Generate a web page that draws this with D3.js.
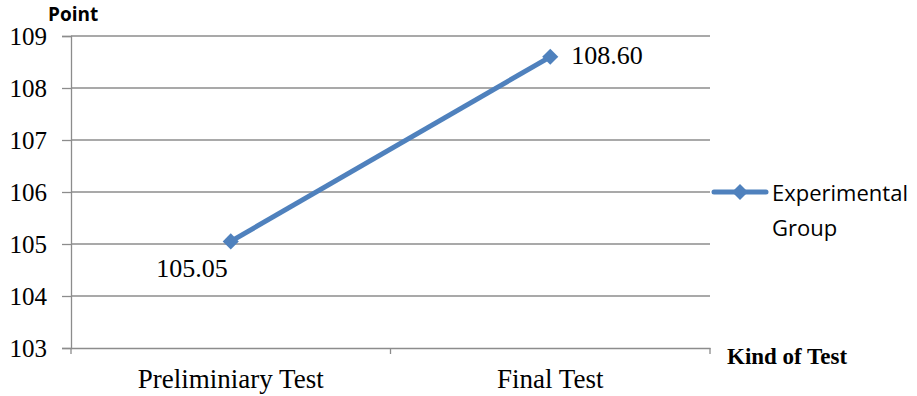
<!DOCTYPE html>
<html>
<head>
<meta charset="utf-8">
<script src="https://cdn.jsdelivr.net/npm/d3@7"></script>
<style>
  body { margin: 0; background: #fff; }
  svg { display: block; }
</style>
</head>
<body>
<svg id="chart" width="917" height="396"></svg>
<script>
var categories = ["Preliminiary Test", "Final Test"];
var values = [105.05, 108.60];
var valueLabels = ["105.05", "108.60"];
var yTicks = [103, 104, 105, 106, 107, 108, 109];
var seriesName = ["Experimental", "Group"];

var svg = d3.select("#chart"),
    margin = { top: 36, right: 207, bottom: 48, left: 71 },
    width = +svg.attr("width") - margin.left - margin.right,
    height = +svg.attr("height") - margin.top - margin.bottom,
    g = svg.append("g").attr("transform", "translate(" + margin.left + "," + margin.top + ")");

var x = d3.scaleBand().domain(categories).range([0, width]);
var y = d3.scaleLinear().domain([103, 109]).range([height, 0]);

var grey = "#8c8c8c";
var blue = "#4f81bd";
var serif = "'Liberation Serif', 'Times New Roman', serif";
var sans = "'Open Sans', 'Noto Sans', sans-serif";

// gridlines
g.append("g")
    .selectAll("line")
    .data(yTicks.slice(1))
    .enter().append("line")
    .attr("x1", 0).attr("x2", width)
    .attr("y1", function (d) { return y(d); })
    .attr("y2", function (d) { return y(d); })
    .attr("stroke", grey).attr("stroke-width", 1.3);

// y axis
var yAxis = g.append("g")
    .call(d3.axisLeft(y).tickValues(yTicks).tickSize(9).tickPadding(15).tickFormat(d3.format("d")));
yAxis.select(".domain").attr("stroke", grey).attr("stroke-width", 1.3);
yAxis.selectAll(".tick line").attr("stroke", grey).attr("stroke-width", 1.3);
yAxis.selectAll("text")
    .attr("font-family", serif)
    .attr("font-size", "25px").attr("fill", "#000");

// x axis
var xAxis = g.append("g")
    .attr("transform", "translate(0," + height + ")")
    .call(d3.axisBottom(x).tickSize(0).tickPadding(21));
xAxis.select(".domain").attr("stroke", grey).attr("stroke-width", 1.3);
xAxis.selectAll("text")
    .attr("font-family", serif)
    .attr("font-size", "27px").attr("fill", "#000");
// boundary ticks between categories
g.append("g")
    .selectAll("line")
    .data([0, width / 2, width])
    .enter().append("line")
    .attr("x1", function (d) { return d; }).attr("x2", function (d) { return d; })
    .attr("y1", height).attr("y2", height + 6)
    .attr("stroke", grey).attr("stroke-width", 1.3);

// axis titles
svg.append("text")
    .attr("x", 48).attr("y", 21)
    .attr("font-family", sans)
    .attr("font-weight", "bold").attr("font-size", "19px")
    .text("Point");

svg.append("text")
    .attr("x", 727).attr("y", 364)
    .attr("font-family", serif)
    .attr("font-weight", "bold").attr("font-size", "23px")
    .text("Kind of Test");

// line
var pts = categories.map(function (c, i) { return [x(c) + x.bandwidth() / 2, y(values[i])]; });
g.append("path")
    .datum(pts)
    .attr("d", d3.line())
    .attr("fill", "none").attr("stroke", blue).attr("stroke-width", 5);

var diamond = d3.symbol().type(d3.symbolDiamond2).size(165);
g.selectAll(".marker")
    .data(pts)
    .enter().append("path")
    .attr("class", "marker")
    .attr("d", diamond)
    .attr("transform", function (d) { return "translate(" + d[0] + "," + d[1] + ")"; })
    .attr("fill", blue);

// data labels
g.append("text")
    .attr("x", pts[0][0] - 3).attr("y", pts[0][1] + 35.5)
    .attr("text-anchor", "end")
    .attr("font-family", serif)
    .attr("font-size", "26px")
    .text(valueLabels[0]);
g.append("text")
    .attr("x", pts[1][0] + 21).attr("y", pts[1][1] + 7)
    .attr("font-family", serif)
    .attr("font-size", "26px")
    .text(valueLabels[1]);

// legend
var legend = svg.append("g").attr("transform", "translate(712," + (margin.top + y(106)) + ")");
legend.append("line")
    .attr("x1", 2).attr("x2", 54)
    .attr("stroke", blue).attr("stroke-width", 5).attr("stroke-linecap", "round");
legend.append("path")
    .attr("d", diamond)
    .attr("transform", "translate(28,0)")
    .attr("fill", blue);
legend.selectAll("text")
    .data(seriesName)
    .enter().append("text")
    .attr("x", 60)
    .attr("y", function (d, i) { return 9 + i * 35; })
    .attr("font-family", sans)
    .attr("font-size", "22px")
    .text(function (d) { return d; });
</script>
</body>
</html>
